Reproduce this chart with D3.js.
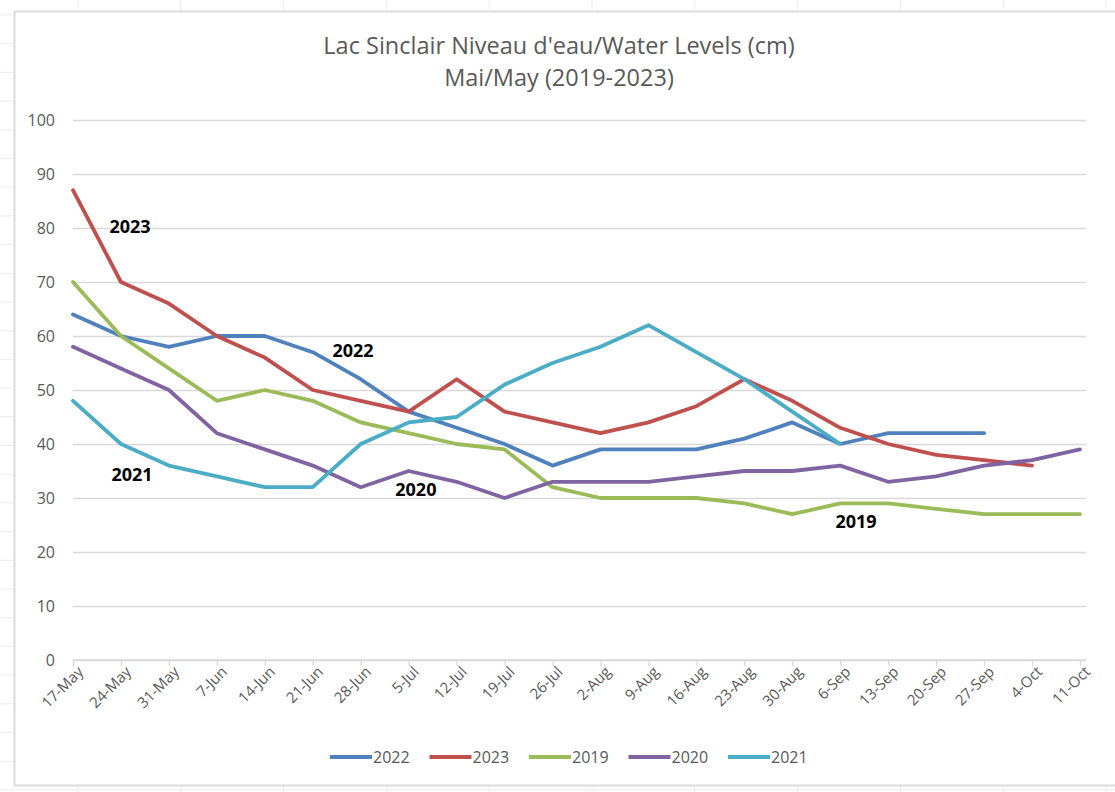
<!DOCTYPE html>
<html>
<head>
<meta charset="utf-8">
<script src="https://cdn.jsdelivr.net/npm/d3@7"></script>
<style>
  body { margin: 0; background: #fff; }
  text { font-family: "Open Sans", sans-serif; }
</style>
</head>
<body>
<div id="chart"></div>
<script>
var svgWidth = 1115;
var svgHeight = 792;

// Chart data
var dates = ["17-May", "24-May", "31-May", "7-Jun", "14-Jun", "21-Jun", "28-Jun", "5-Jul", "12-Jul",
  "19-Jul", "26-Jul", "2-Aug", "9-Aug", "16-Aug", "23-Aug", "30-Aug", "6-Sep", "13-Sep", "20-Sep",
  "27-Sep", "4-Oct", "11-Oct"];

var years = ["2022", "2023", "2019", "2020", "2021"];

var y2022 = [64, 60, 58, 60, 60, 57, 52, 46, 43, 40, 36, 39, 39, 39, 41, 44, 40, 42, 42, 42, null, null];
var y2023 = [87, 70, 66, 60, 56, 50, 48, 46, 52, 46, 44, 42, 44, 47, 52, 48, 43, 40, 38, 37, 36, null];
var y2019 = [70, 60, 54, 48, 50, 48, 44, 42, 40, 39, 32, 30, 30, 30, 29, 27, 29, 29, 28, 27, 27, 27];
var y2020 = [58, 54, 50, 42, 39, 36, 32, 35, 33, 30, 33, 33, 33, 34, 35, 35, 36, 33, 34, 36, 37, 39];
var y2021 = [48, 40, 36, 34, 32, 32, 40, 44, 45, 51, 55, 58, 62, 57, 52, 46, 40, null, null, null, null, null];

var yTicks = [0, 10, 20, 30, 40, 50, 60, 70, 80, 90, 100];

// in-chart year labels: position in category index / value
var annoLabels = ["2023", "2022", "2021", "2020", "2019"];
var annoIndex = [1.19, 5.84, 1.23, 7.15, 16.33];
var annoValue = [80.2, 57.2, 34.4, 31.5, 25.7];

var colors = {
  "2022": "#4f81bd",
  "2023": "#c0504d",
  "2019": "#9bbb59",
  "2020": "#8064a2",
  "2021": "#4bacc6"
};

var seriesValues = {
  "2022": y2022,
  "2023": y2023,
  "2019": y2019,
  "2020": y2020,
  "2021": y2021
};

var svg = d3.select("#chart")
  .append("svg")
  .attr("width", svgWidth)
  .attr("height", svgHeight);

// spreadsheet cells behind the chart object
var sheet = svg.append("g").attr("stroke", "#ececec").attr("stroke-width", 1);
for (var cx = 78; cx < svgWidth; cx += 102.8) {
  sheet.append("line").attr("x1", cx).attr("x2", cx).attr("y1", 0).attr("y2", svgHeight);
}
for (var cy = 15; cy < svgHeight; cy += 28.7) {
  sheet.append("line").attr("x1", 0).attr("x2", svgWidth).attr("y1", cy).attr("y2", cy);
}

// chart area
svg.append("rect")
  .attr("x", 14.5)
  .attr("y", 11.5)
  .attr("width", 1120)
  .attr("height", 774)
  .attr("fill", "#fff")
  .attr("stroke", "#dcdcdc")
  .attr("stroke-width", 2);

// scales
var xScale = d3.scalePoint()
  .domain(dates)
  .range([73, 1080]);

var xIndex = d3.scaleLinear()
  .domain([0, dates.length - 1])
  .range([73, 1080]);

var yScale = d3.scaleLinear()
  .domain([0, 100])
  .range([660, 120]);

// title
svg.append("text")
  .attr("x", 559)
  .attr("y", 54)
  .attr("text-anchor", "middle")
  .attr("fill", "#595959")
  .style("font-size", "23.5px")
  .text("Lac Sinclair Niveau d'eau/Water Levels (cm)");

svg.append("text")
  .attr("x", 559)
  .attr("y", 86)
  .attr("text-anchor", "middle")
  .attr("fill", "#595959")
  .style("font-size", "23.5px")
  .text("Mai/May (2019-2023)");

// gridlines + y labels
var leftAxis = d3.axisLeft(yScale)
  .tickValues(yTicks)
  .tickSize(-1013)
  .tickPadding(18);

var yAxisG = svg.append("g")
  .attr("transform", "translate(73, 0)")
  .call(leftAxis);

yAxisG.select(".domain").remove();
yAxisG.selectAll(".tick line")
  .attr("stroke", "#d9d9d9")
  .attr("stroke-width", 1.3);
yAxisG.selectAll(".tick text")
  .attr("fill", "#595959")
  .style("font-size", "16px")
  .style("font-family", "'Open Sans', sans-serif");

// x axis
var bottomAxis = d3.axisBottom(xScale)
  .tickSize(6)
  .tickSizeOuter(0);

var xAxisG = svg.append("g")
  .attr("transform", "translate(0, 660)")
  .call(bottomAxis);

xAxisG.select(".domain")
  .attr("d", "M73,0H1086")
  .attr("stroke", "#d9d9d9")
  .attr("stroke-width", 1.3);
xAxisG.selectAll(".tick line").attr("stroke", "#d9d9d9").attr("stroke-width", 1.3);
xAxisG.selectAll(".tick text")
  .attr("fill", "#595959")
  .style("font-size", "15px")
  .style("font-family", "'Open Sans', sans-serif")
  .attr("text-anchor", "end")
  .attr("dy", "0.35em")
  .attr("transform", "translate(7, 9) rotate(-45)")
  .attr("y", 0)
  .attr("x", 0);

// lines
var line = d3.line()
  .defined(function(d) { return d.v !== null; })
  .x(function(d) { return xScale(d.date); })
  .y(function(d) { return yScale(d.v); });

years.forEach(function(yr) {
  var pts = dates.map(function(d, i) {
    return { date: d, v: seriesValues[yr][i] };
  });
  svg.append("path")
    .datum(pts)
    .attr("fill", "none")
    .attr("stroke", colors[yr])
    .attr("stroke-width", 3.8)
    .attr("stroke-linejoin", "round")
    .attr("stroke-linecap", "round")
    .attr("d", line);
});

// year labels inside the plot
annoLabels.forEach(function(lbl, i) {
  svg.append("text")
    .attr("x", xIndex(annoIndex[i]))
    .attr("y", yScale(annoValue[i]))
    .attr("dy", "0.35em")
    .attr("text-anchor", "middle")
    .attr("fill", "#000")
    .style("font-size", "18px")
    .style("font-weight", "bold")
    .text(lbl);
});

// legend
var legend = svg.append("g").attr("transform", "translate(330, 757)");

years.forEach(function(yr, i) {
  var item = legend.append("g").attr("transform", "translate(" + (i * 99.5) + ", 0)");
  item.append("line")
    .attr("x1", 0)
    .attr("x2", 42)
    .attr("y1", 0)
    .attr("y2", 0)
    .attr("stroke", colors[yr])
    .attr("stroke-width", 4);
  item.append("text")
    .attr("x", 43)
    .attr("y", 0)
    .attr("dy", "0.35em")
    .attr("fill", "#595959")
    .style("font-size", "16px")
    .text(yr);
});
</script>
</body>
</html>
